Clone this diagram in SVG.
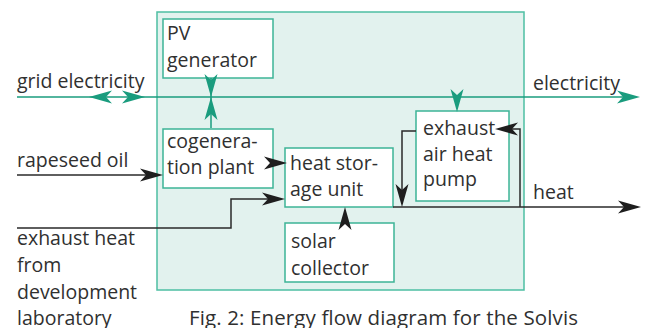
<svg xmlns="http://www.w3.org/2000/svg" xmlns:xlink="http://www.w3.org/1999/xlink" width="648" height="328" viewBox="0 0 648 328">
<style>
.txt{font-family:"Open Sans","Liberation Sans",sans-serif;font-size:19.5px;fill:#303030}
.node{fill:#ffffff;stroke:#3db496;stroke-width:1.5}
.g{fill:none;stroke:#1a9c7e;stroke-width:1.5}
.k{fill:none;stroke:#2a2a2a;stroke-width:1.5}
.ahg{fill:#1a9c7e}
.ahk{fill:#1e1e1e}
</style>
<defs>
<path id="ah" d="M0,0 L-23,-6.5 L-17,0 L-23,6.5 Z"/>
</defs>
<rect id="system" x="157" y="12" width="367" height="278" fill="#e2f2ee" stroke="#4dbfa3" stroke-width="1.5"/>
<g id="pv"><rect class="node" x="163" y="19" width="110" height="59"/><text class="txt" x="167" y="40">PV</text><text class="txt" x="167" y="67">generator</text></g>
<g id="cogen"><rect class="node" x="163" y="129" width="110" height="59"/><text class="txt" x="167" y="148">cogenera-</text><text class="txt" x="167" y="174">tion plant</text></g>
<g id="storage"><rect class="node" x="285" y="148" width="108" height="59"/><text class="txt" x="290" y="170">heat stor-</text><text class="txt" x="290" y="196">age unit</text></g>
<g id="heatpump"><rect class="node" x="416" y="111" width="93" height="90"/><text class="txt" x="423" y="135">exhaust</text><text class="txt" x="423" y="161">air heat</text><text class="txt" x="423" y="186">pump</text></g>
<g id="solar"><rect class="node" x="285" y="223" width="109" height="59"/><text class="txt" x="291" y="248">solar</text><text class="txt" x="291" y="275">collector</text></g>
<g id="labels">
<text class="txt" x="17" y="88">grid electricity</text>
<text class="txt" x="17" y="167">rapeseed oil</text>
<text class="txt" x="17" y="245">exhaust heat</text>
<text class="txt" x="17" y="272">from</text>
<text class="txt" x="17" y="299">development</text>
<text class="txt" x="17" y="325">laboratory</text>
<text class="txt" x="533" y="90">electricity</text>
<text class="txt" x="533" y="199">heat</text>
<text class="txt" x="189" y="325" style="font-size:20.5px" textLength="389" lengthAdjust="spacing">Fig. 2: Energy flow diagram for the Solvis</text>
</g>
<g id="connectors">
<path class="g" d="M17,97 H628"/>
<path class="g" d="M211,78 V128"/>
<path class="g" d="M457,97 V104"/>
<use xlink:href="#ah" class="ahg" transform="translate(89,97) rotate(180)"/>
<use xlink:href="#ah" class="ahg" transform="translate(145,97)"/>
<use xlink:href="#ah" class="ahg" transform="translate(640,97)"/>
<use xlink:href="#ah" class="ahg" transform="translate(211,97) rotate(90)"/>
<use xlink:href="#ah" class="ahg" transform="translate(211,97) rotate(-90)"/>
<use xlink:href="#ah" class="ahg" transform="translate(457,112) rotate(90)"/>
<path class="k" d="M17,175 H150" stroke="#555"/>
<use xlink:href="#ah" class="ahk" transform="translate(163,175)"/>
<path class="k" d="M273,163 H280"/>
<use xlink:href="#ah" class="ahk" transform="translate(287,163)"/>
<path class="k" d="M17,228 H231 V199 H272"/>
<use xlink:href="#ah" class="ahk" transform="translate(285,199)"/>
<path class="k" d="M345,223 V215"/>
<use xlink:href="#ah" class="ahk" transform="translate(345,207) rotate(-90)"/>
<path class="k" d="M393,207 H628"/>
<use xlink:href="#ah" class="ahk" transform="translate(641,207)"/>
<path class="k" d="M416,131 H402 V195"/>
<use xlink:href="#ah" class="ahk" transform="translate(402,207) rotate(90)"/>
<path class="k" d="M520,207 V129 H506"/>
<use xlink:href="#ah" class="ahk" transform="translate(495,129) rotate(180)"/>
</g>
</svg>
